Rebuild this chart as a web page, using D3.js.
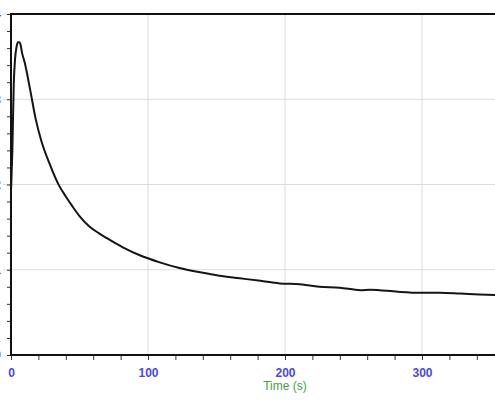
<!DOCTYPE html>
<html>
<head>
<meta charset="utf-8">
<script src="https://cdn.jsdelivr.net/npm/d3@7"></script>
<style>
  body { margin: 0; background: #fff; }
  svg { display: block; }
  .tick text { font-family: "Liberation Sans", Arial, sans-serif; }
</style>
</head>
<body>
<div id="chart"></div>
<script>
// time in seconds and measured value
const times = [0, 1, 2, 3, 4, 5, 6, 7, 8, 10, 14, 18, 22, 28, 35, 40, 45, 50, 57, 64, 70, 82, 94,
  108, 123, 138, 152, 167, 182, 196, 211, 225, 240, 255, 262, 269, 284, 299, 313, 328, 342, 360];
const values = [1.91, 2.40, 3.17, 3.48, 3.61, 3.67, 3.67, 3.64, 3.55, 3.43, 3.11, 2.77, 2.52,
  2.25, 1.99, 1.86, 1.74, 1.63, 1.51, 1.43, 1.37, 1.26, 1.17, 1.09, 1.02, 0.97, 0.93, 0.90,
  0.87, 0.84, 0.83, 0.80, 0.79, 0.76, 0.765, 0.76, 0.74, 0.73, 0.73, 0.72, 0.71, 0.70];

const xLabels = [0, 100, 200, 300];
const yLabels = [0, 1, 2, 3, 4];

const W = 495, H = 400;
const mLeft = 11, mTop = 14, mBottom = 355;

const svg = d3.select("#chart").append("svg").attr("width", W).attr("height", H);

const x = d3.scaleLinear().domain([0, 400]).range([mLeft, mLeft + 548]);
const y = d3.scaleLinear().domain([0, 4]).range([mBottom, mTop]);

// grid
svg.append("g")
  .selectAll("line")
  .data(xLabels.slice(1))
  .enter().append("line")
  .attr("x1", d => x(d)).attr("x2", d => x(d))
  .attr("y1", mTop).attr("y2", mBottom)
  .attr("stroke", "#dcdcdc").attr("stroke-width", 1);

svg.append("g")
  .selectAll("line")
  .data(yLabels.slice(1))
  .enter().append("line")
  .attr("x1", 3).attr("x2", W)
  .attr("y1", d => y(d)).attr("y2", d => y(d))
  .attr("stroke", "#dcdcdc").attr("stroke-width", 1);

// axes
const xAxis = svg.append("g")
  .attr("transform", `translate(0,${mBottom})`)
  .call(d3.axisBottom(x).tickValues(d3.range(0, 361, 20)).tickSize(5)
    .tickFormat(d => xLabels.includes(d) ? d : ""));
xAxis.select(".domain").remove();
xAxis.selectAll(".tick line").attr("stroke", "#333");
xAxis.selectAll(".tick text")
  .attr("fill", "#4747f0").attr("font-size", 12).attr("font-weight", "bold")
  .attr("y", 13);

const yAxis = svg.append("g")
  .attr("transform", `translate(${mLeft},0)`)
  .call(d3.axisLeft(y).tickValues(d3.range(0, 4.01, 0.2)).tickSize(4)
    .tickFormat(d => Math.abs(d - Math.round(d)) < 1e-6 ? Math.round(d) : ""));
yAxis.select(".domain").remove();
yAxis.selectAll(".tick line").attr("stroke", "#333");
yAxis.selectAll(".tick text")
  .attr("fill", "#4747f0").attr("font-size", 12).attr("font-weight", "bold").attr("x", -10);

// frame
svg.append("line").attr("x1", mLeft).attr("x2", W).attr("y1", mTop).attr("y2", mTop)
  .attr("stroke", "#111").attr("stroke-width", 2);
svg.append("line").attr("x1", mLeft).attr("x2", mLeft).attr("y1", mTop - 1).attr("y2", mBottom + 1)
  .attr("stroke", "#111").attr("stroke-width", 2);
svg.append("line").attr("x1", mLeft).attr("x2", W).attr("y1", mBottom).attr("y2", mBottom)
  .attr("stroke", "#111").attr("stroke-width", 2);

// curve
const line = d3.line()
  .x((d, i) => x(times[i]))
  .y(d => y(d))
  .curve(d3.curveMonotoneX);

svg.append("path")
  .attr("d", line(values))
  .attr("fill", "none")
  .attr("stroke", "#151515")
  .attr("stroke-width", 2);

// axis title
svg.append("text")
  .attr("x", x(200)).attr("y", 390)
  .attr("text-anchor", "middle")
  .attr("font-family", "Liberation Sans, Arial, sans-serif")
  .attr("font-size", 12)
  .attr("fill", "#46a046")
  .text("Time (s)");
</script>
</body>
</html>
